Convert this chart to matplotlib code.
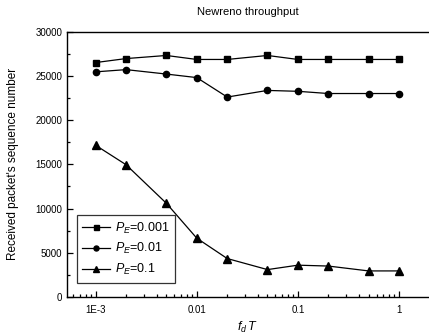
import matplotlib
matplotlib.use("Agg")
import matplotlib.pyplot as plt
from matplotlib.ticker import FixedLocator, FixedFormatter, LogLocator, MultipleLocator

plt.rcParams['font.family'] = ['Liberation Sans', 'DejaVu Sans']
plt.rcParams['mathtext.fontset'] = 'custom'
plt.rcParams['mathtext.it'] = 'Liberation Sans:italic'
plt.rcParams['mathtext.rm'] = 'Liberation Sans'

fdT = [0.001, 0.002, 0.005, 0.01, 0.02, 0.05, 0.1, 0.2, 0.5, 1.0]
pe_0001 = [26500, 26950, 27300, 26850, 26850, 27300, 26850, 26850, 26850, 26850]
pe_001 = [25450, 25700, 25200, 24800, 22600, 23350, 23250, 23000, 23000, 23000]
pe_01 = [17150, 14950, 10600, 6650, 4350, 3100, 3600, 3500, 2950, 2950]
labels = ['$P_E$=0.001', '$P_E$=0.01', '$P_E$=0.1']
xticks = [0.001, 0.01, 0.1, 1]
xticklabels = ['1E-3', '0.01', '0.1', '1']
yticks = [0, 5000, 10000, 15000, 20000, 25000, 30000]

fig = plt.figure(figsize=(4.29, 3.36), dpi=100)
ax = fig.add_axes([0.156, 0.116, 0.842, 0.79])

ax.plot(fdT, pe_0001, '-s', color='black', lw=0.9, ms=4.5, label=labels[0])
ax.plot(fdT, pe_001, '-o', color='black', lw=0.9, ms=4.5, label=labels[1])
ax.plot(fdT, pe_01, '-^', color='black', lw=0.9, ms=5.5, label=labels[2])

ax.set_xscale('log')
ax.set_xlim(5.2e-4, 1.94)
ax.set_ylim(0, 30000)
ax.xaxis.set_major_locator(FixedLocator(xticks))
ax.xaxis.set_major_formatter(FixedFormatter(xticklabels))
ax.xaxis.set_minor_locator(LogLocator(base=10, subs=range(2, 10)))
ax.set_yticks(yticks)
ax.yaxis.set_minor_locator(MultipleLocator(2500))
ax.tick_params(which='both', direction='in', labelsize=7, width=0.9)
ax.tick_params(which='major', length=4)
ax.tick_params(which='minor', length=2.5)
ax.tick_params(axis='x', pad=6)
ax.spines['right'].set_visible(False)
for s in ['left', 'bottom', 'top']:
    ax.spines[s].set_linewidth(1.0)

ax.set_title('Newreno throughput', fontsize=8, pad=12)
ax.set_xlabel('$f_d\\,T$', fontsize=9, labelpad=3)
ax.set_ylabel("Received packet's sequence number", fontsize=8.5, labelpad=12)

leg = ax.legend(loc='lower left', bbox_to_anchor=(0.01, 0.03), fontsize=9,
                frameon=True, fancybox=False, edgecolor='black',
                handlelength=2.2, handletextpad=0.4, borderpad=0.45,
                labelspacing=0.45, markerscale=0.8)
leg.get_frame().set_linewidth(0.9)

fig.savefig('out.png', dpi=100)
